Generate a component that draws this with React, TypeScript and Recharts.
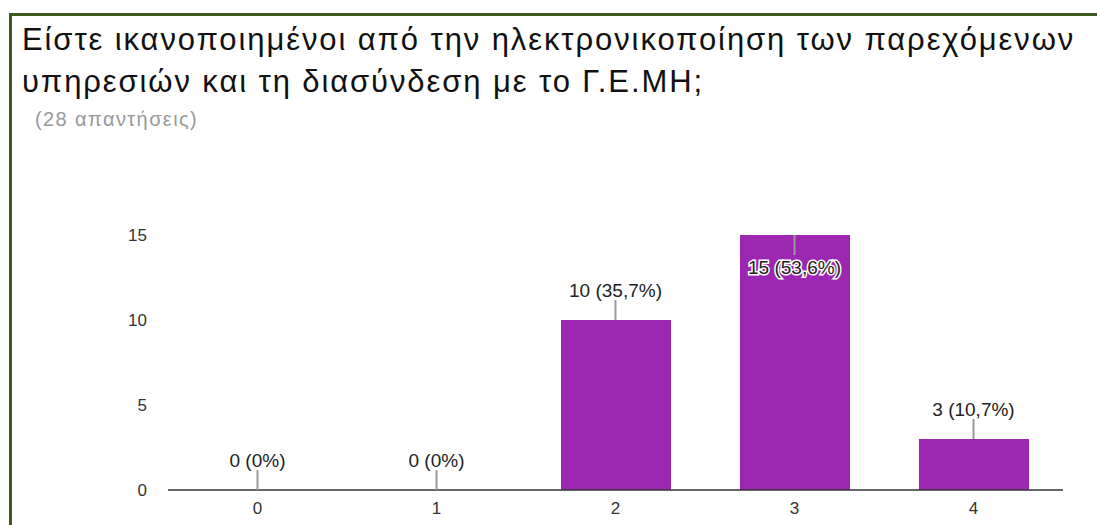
import { ComposedChart, Bar, Line, XAxis, YAxis } from "recharts"

const categories = ["0", "1", "2", "3", "4"]
const counts = [0, 0, 10, 15, 3]
const percents = ["0%", "0%", "35,7%", "53,6%", "10,7%"]
const yTicks = [0, 5, 10, 15]

const titleLines = ["Είστε ικανοποιημένοι από την ηλεκτρονικοποίηση των παρεχόμενων", "υπηρεσιών και τη διασύνδεση με το Γ.Ε.ΜΗ;"]
const subtitle = "(28 απαντήσεις)"

const data = categories.map((c, i) => ({ name: c, count: counts[i], pct: percents[i] }))
const maxCount = Math.max(...counts)
const FONT = "Liberation Sans, Arial, sans-serif"

// leader line + "n (p%)" label, drawn at each bar top
const renderLabel = (props: any) => {
  const { cx, cy, index, payload } = props
  const text = `${payload.count} (${payload.pct})`
  if (payload.count === maxCount) {
    return (
      <g key={`lbl-${index}`}>
        <line x1={cx} x2={cx} y1={cy} y2={cy + 20} stroke="#999" strokeWidth={2} />
        <text x={cx} y={cy + 32} textAnchor="middle" dominantBaseline="central" fontSize={19} fill="#222"
          stroke="#fff" strokeWidth={3} paintOrder="stroke" fontFamily={FONT}>
          {text}
        </text>
      </g>
    )
  }
  return (
    <g key={`lbl-${index}`}>
      <line x1={cx} x2={cx} y1={cy - 20} y2={cy} stroke="#999" strokeWidth={2} />
      <text x={cx} y={cy - 30} textAnchor="middle" dominantBaseline="central" fontSize={19} fill="#222" fontFamily={FONT}>
        {text}
      </text>
    </g>
  )
}

export default function App() {
  return (
    <div style={{ position: "absolute", left: 0, top: 0, width: 1097, height: 525, background: "#fff", overflow: "hidden", fontFamily: FONT }}>
      {/* card with the dark green frame */}
      <div
        style={{
          position: "absolute",
          left: 9,
          top: 13,
          width: 1200,
          height: 600,
          borderTop: "3.5px solid #3d5a1f",
          borderLeft: "3.5px solid #3d5a1f",
          background: "#fff",
        }}
      />
      <div style={{ position: "absolute", left: 22, top: 19, fontSize: 31, lineHeight: "42px", color: "#111", whiteSpace: "nowrap", letterSpacing: 1.9 }}>
        {titleLines[0]}
        <br />
        {titleLines[1]}
      </div>
      <div style={{ position: "absolute", left: 35, top: 108, fontSize: 20, color: "#999", whiteSpace: "nowrap", letterSpacing: 1.4 }}>{subtitle}</div>

      <div style={{ position: "absolute", left: 0, top: 0 }}>
        <ComposedChart width={1097} height={525} data={data} margin={{ top: 235, right: 34, bottom: 5, left: 108 }}>
          <XAxis
            dataKey="name"
            height={30}
            axisLine={{ stroke: "#333", strokeWidth: 1.5 }}
            tickLine={false}
            tickSize={0}
            tickMargin={12}
            tick={{ fill: "#333", fontSize: 17, fontFamily: FONT }}
          />
          <YAxis
            width={60}
            domain={[0, 15]}
            ticks={yTicks}
            axisLine={false}
            tickLine={false}
            tickSize={0}
            tickMargin={21}
            tick={{ fill: "#333", fontSize: 17, fontFamily: FONT }}
          />
          <Bar dataKey="count" fill="#9c27b0" barSize={110} isAnimationActive={false} />
          <Line dataKey="count" stroke="none" dot={renderLabel} activeDot={false} isAnimationActive={false} />
        </ComposedChart>
      </div>
    </div>
  )
}
